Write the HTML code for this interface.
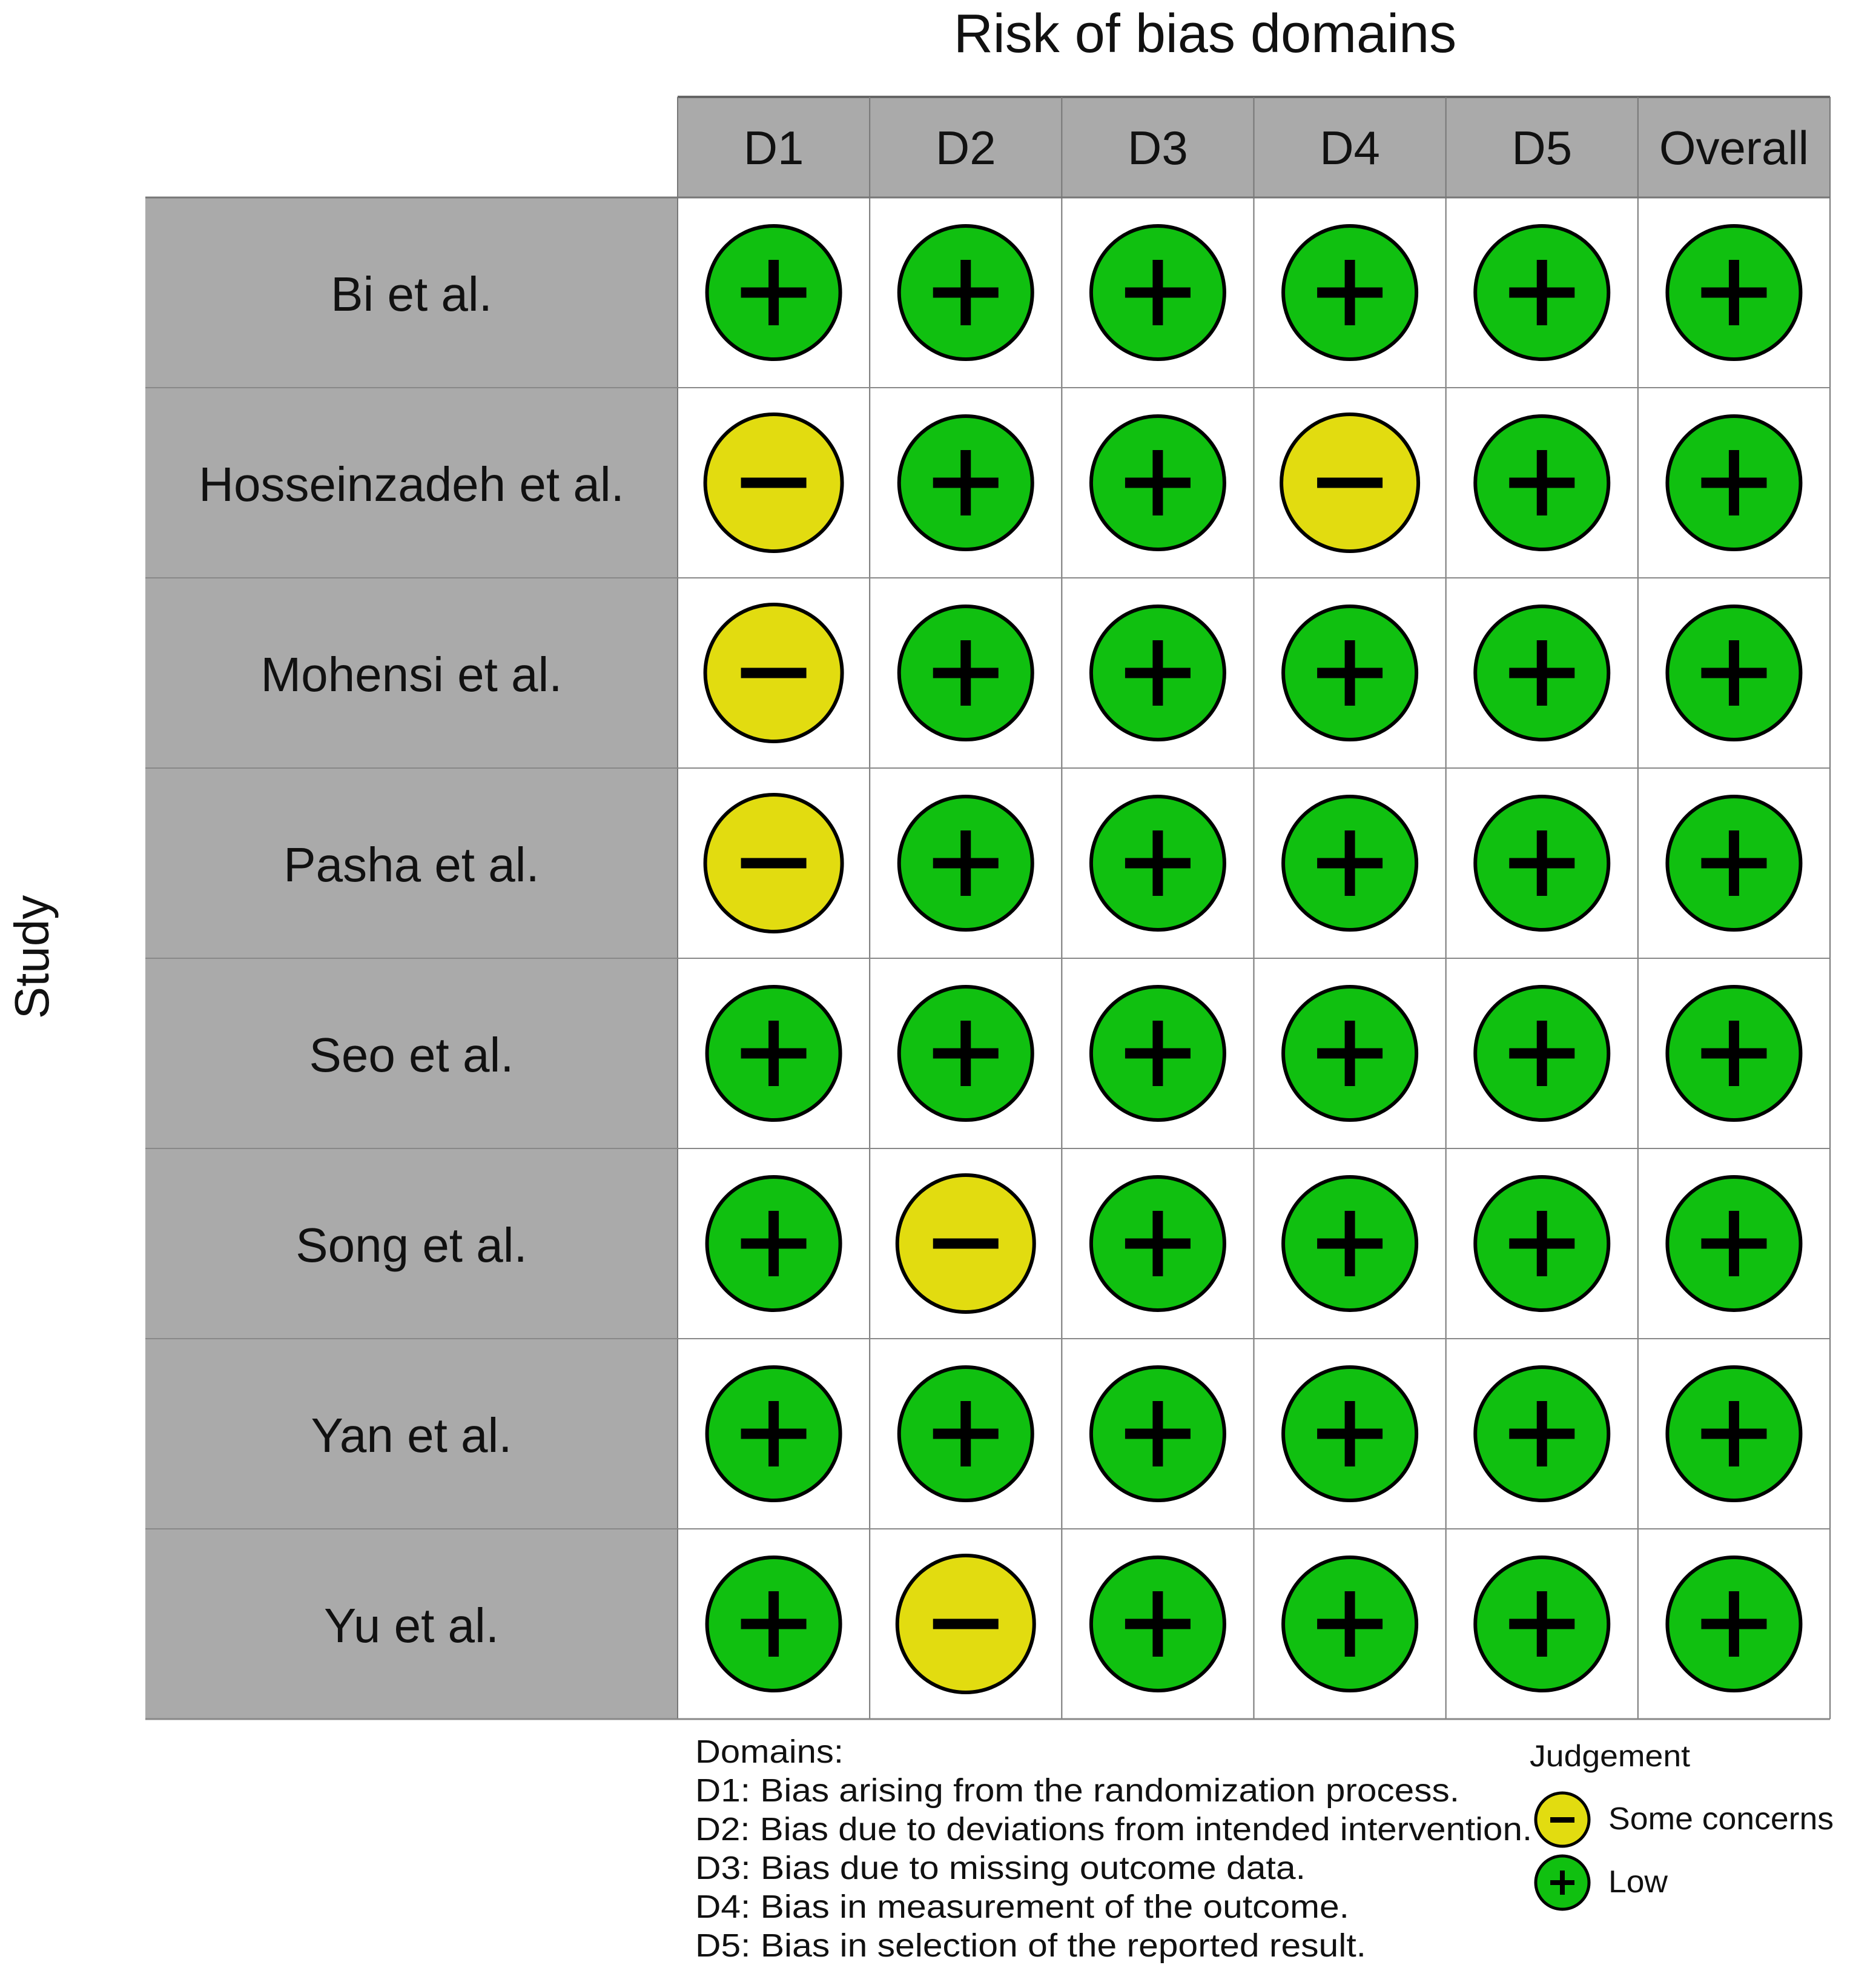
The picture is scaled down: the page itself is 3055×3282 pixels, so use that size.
<!DOCTYPE html>
<html><head><meta charset="utf-8"><style>
html,body{margin:0;padding:0;background:#fff;}
svg{display:block;font-family:"Liberation Sans",sans-serif;}
</style></head><body>
<svg id="chart" width="3055" height="3282" viewBox="0 0 3055 3282" xmlns="http://www.w3.org/2000/svg">
<text x="1990" y="86" font-size="90" text-anchor="middle" fill="#111">Risk of bias domains</text>
<text transform="translate(80,1580) rotate(-90)" font-size="80" text-anchor="middle" fill="#111">Study</text>
<g id="grid"></g>
<g id="marks"></g>
<g font-size="54" fill="#111">
<text x="1148" y="2910" textLength="245" lengthAdjust="spacingAndGlyphs">Domains:</text>
<text x="1148" y="2974" textLength="1262" lengthAdjust="spacingAndGlyphs">D1: Bias arising from the randomization process.</text>
<text x="1148" y="3038" textLength="1382" lengthAdjust="spacingAndGlyphs">D2: Bias due to deviations from intended intervention.</text>
<text x="1148" y="3102" textLength="1008" lengthAdjust="spacingAndGlyphs">D3: Bias due to missing outcome data.</text>
<text x="1148" y="3166" textLength="1080" lengthAdjust="spacingAndGlyphs">D4: Bias in measurement of the outcome.</text>
<text x="1148" y="3230" textLength="1108" lengthAdjust="spacingAndGlyphs">D5: Bias in selection of the reported result.</text>
</g>
<g fill="#111">
<text x="2526" y="2916" font-size="50" textLength="265" lengthAdjust="spacingAndGlyphs">Judgement</text>
<g>
<circle cx="2580" cy="3004" r="44" fill="#e2dc10" stroke="#000" stroke-width="5"/>
<rect x="2560" y="3000" width="40" height="9" fill="#000"/>
<text x="2656" y="3020" font-size="52" textLength="372" lengthAdjust="spacingAndGlyphs">Some concerns</text>
</g>
<g>
<circle cx="2580" cy="3108" r="44" fill="#10c010" stroke="#000" stroke-width="5"/>
<rect x="2560" y="3104" width="40" height="8" fill="#000"/>
<rect x="2576" y="3088" width="8" height="40" fill="#000"/>
<text x="2656" y="3124" font-size="52" textLength="98" lengthAdjust="spacingAndGlyphs">Low</text>
</g>
</g>
</svg>
<script>
const studies = ["Bi et al.","Hosseinzadeh et al.","Mohensi et al.","Pasha et al.","Seo et al.","Song et al.","Yan et al.","Yu et al."];
const domains = ["D1","D2","D3","D4","D5","Overall"];
// judgements per study: 1 = Low (+), 0 = Some concerns (-)
const judgements = [
 [1,1,1,1,1,1],
 [0,1,1,0,1,1],
 [0,1,1,1,1,1],
 [0,1,1,1,1,1],
 [1,1,1,1,1,1],
 [1,0,1,1,1,1],
 [1,1,1,1,1,1],
 [1,0,1,1,1,1]
];
const NS="http://www.w3.org/2000/svg";
const gx0=1119, gx1=3022, hy0=160, hy1=326, lx0=240, gy1=2838;
const colW=(gx1-gx0)/domains.length, rowH=(gy1-hy1)/studies.length;
function xc(i){return gx0+colW*(i+0.5);}
function yc(j){return hy1+rowH*(j+0.5);}
function mk(tag,attrs,parent){const e=document.createElementNS(NS,tag);for(const k in attrs)e.setAttribute(k,attrs[k]);parent.appendChild(e);return e;}
const grid=document.getElementById('grid'), marks=document.getElementById('marks');
let hb=mk('rect',{x:gx0,y:hy0,width:gx1-gx0,height:hy1-hy0,fill:'#aaaaaa'},grid);


let lb=mk('rect',{x:lx0,y:hy1,width:gx0-lx0,height:gy1-hy1,fill:'#aaaaaa'},grid);


mk('line',{x1:gx0,y1:hy0,x2:gx1,y2:hy0,stroke:'#666','stroke-width':4},grid);
mk('line',{x1:lx0,y1:hy1,x2:gx1,y2:hy1,stroke:'#777','stroke-width':3},grid);
for(let i=0;i<=domains.length;i++){
  mk('line',{x1:gx0+colW*i,y1:hy0,x2:gx0+colW*i,y2:gy1,stroke:'#777','stroke-width':2},grid);
}
for(let j=1;j<=studies.length;j++){
  mk('line',{x1:lx0,y1:hy1+rowH*j,x2:gx1,y2:hy1+rowH*j,stroke:'#888','stroke-width':j==studies.length?3:2},grid);
}
domains.forEach((d,i)=>{
  const t=mk('text',{x:xc(i),y:(hy0+hy1)/2+28,'font-size':78,'text-anchor':'middle',fill:'#111'},grid);
  t.textContent=d;
  
  
});
studies.forEach((s,j)=>{
  const t=mk('text',{x:(lx0+gx0)/2,y:yc(j)+30,'font-size':80,'text-anchor':'middle',fill:'#111'},grid);
  t.textContent=s;
  
  
  judgements[j].forEach((v,i)=>{
    const g=mk('g',{},marks);
    
    
    const cx=xc(i), cy=yc(j);
    mk('circle',{cx:cx,cy:cy,r:v?110:113,fill:v?'#10c010':'#e2dc10',stroke:'#000','stroke-width':6},g);
    mk('rect',{x:cx-54,y:cy-8.5,width:108,height:17,fill:'#000'},g);
    if(v) mk('rect',{x:cx-8.5,y:cy-54,width:17,height:108,fill:'#000'},g);
  });
});
</script>
</body></html>
